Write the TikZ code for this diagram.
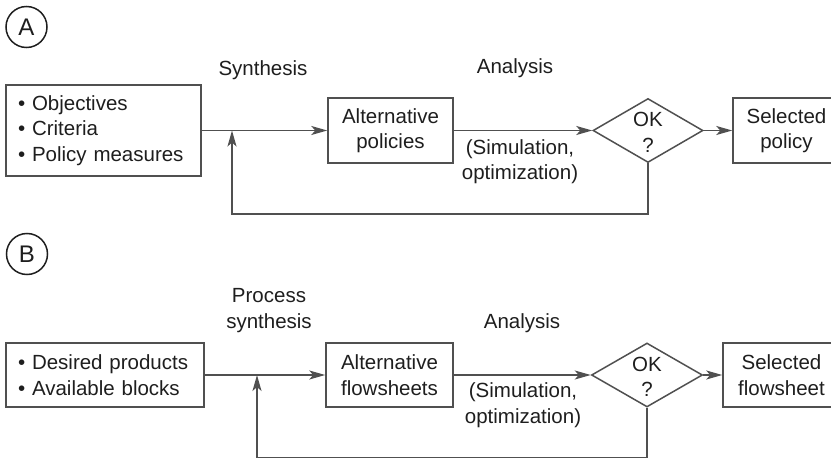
\documentclass[tikz,border=0pt]{standalone}
\usepackage{fontspec}
\setmainfont{Liberation Sans}
\usetikzlibrary{shapes.geometric,arrows.meta}

\definecolor{linegray}{HTML}{505050}
\definecolor{inkgray}{HTML}{1E1E1E}

\tikzset{
  base/.style={font=\fontsize{20.5}{25.5}\selectfont, text=inkgray},
  boxnode/.style={base, draw=linegray, line width=1.5pt, rectangle, inner sep=0pt, align=center},
  listbox/.style={boxnode, align=left, inner xsep=12pt},
  okshape/.style={draw=linegray, line width=1.5pt, diamond, inner sep=0pt},
  lbl/.style={base, align=center, inner sep=0pt},
  tag/.style={draw=inkgray, line width=1.5pt, circle, inner sep=0pt, minimum size=41pt,
    font=\fontsize{24}{28}\selectfont, text=inkgray},
  flow/.style={draw=linegray, line width=1.5pt, -{Stealth[length=16pt,width=9pt,inset=4pt]}},
  wire/.style={draw=linegray, line width=1.5pt}
}

\begin{document}
\begin{tikzpicture}[x=1pt,y=-1pt]
\useasboundingbox (0,0) rectangle (831,460);
\clip (0,0) rectangle (831,460);

% ---------- Panel A ----------
\node[tag] (tagA) at (26.5,27) {A};

\node[listbox, minimum width=195pt, minimum height=91pt, text width=171pt] (inA) at (103.5,130.5)
  {\textbullet\ Objectives\\ \textbullet\ Criteria\\ \textbullet\ Policy measures};
\node[boxnode, minimum width=125pt, minimum height=65pt] (altA) at (390.5,130.5)
  {Alternative\\ policies};
\node[okshape, minimum width=110pt, minimum height=64pt] (okA) at (648,130.5) {};
\node[lbl] (okAtxt) at (648,132.5) {OK\\ ?};
\node[boxnode, minimum width=107pt, minimum height=65pt] (selA) at (786.5,130.5)
  {Selected\\ policy};

\node[lbl] (synA) at (263,70) {Synthesis};
\node[lbl] (anaA) at (515,68) {Analysis};
\node[lbl] (simA) at (520,161.5) {(Simulation,\\ optimization)};

\coordinate (jA) at (232,130.5);
\coordinate (cA) at (232,214);

\draw[flow] (inA.east) -- (altA.west);
\draw[flow] (altA.east) -- (okA.west);
\draw[flow] (okA.east) -- (selA.west);
\draw[flow] (okA.south) |- (cA) -- (jA);

% ---------- Panel B ----------
\node[tag] (tagB) at (27,254) {B};

\node[listbox, minimum width=198pt, minimum height=64pt, text width=174pt] (inB) at (105,375)
  {\textbullet\ Desired products\\ \textbullet\ Available blocks};
\node[boxnode, minimum width=127pt, minimum height=64pt] (altB) at (389.5,375)
  {Alternative\\ flowsheets};
\node[okshape, minimum width=111pt, minimum height=64pt] (okB) at (647,375) {};
\node[lbl] (okBtxt) at (647,377) {OK\\ ?};
\node[boxnode, minimum width=117pt, minimum height=64pt] (selB) at (781.5,375)
  {Selected\\ flowsheet};

\node[lbl] (synB) at (269,310.5) {Process\\ synthesis};
\node[lbl] (anaB) at (522,323) {Analysis};
\node[lbl] (simB) at (523,405) {(Simulation,\\ optimization)};

\coordinate (jB) at (257,375);
\coordinate (cB) at (257,457.5);

\draw[flow] (inB.east) -- (altB.west);
\draw[flow] (altB.east) -- (okB.west);
\draw[flow] (okB.east) -- (selB.west);
\draw[flow] (okB.south) |- (cB) -- (jB);
\end{tikzpicture}
\end{document}
